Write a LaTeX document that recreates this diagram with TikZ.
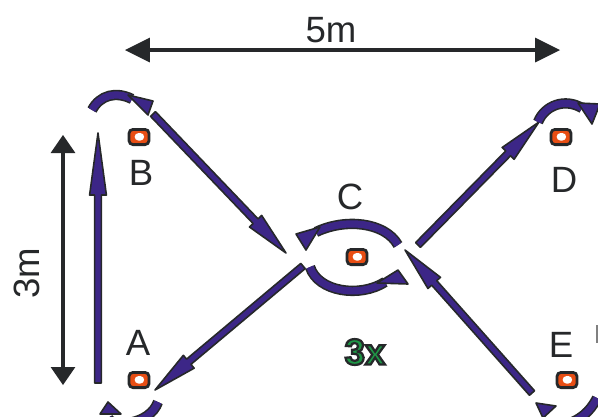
\documentclass[tikz,border=0pt]{standalone}
\usepackage{fontspec}
\setmainfont{Liberation Sans}
\usetikzlibrary{arrows.meta,calc}

\definecolor{drillviolet}{RGB}{60,38,135}
\definecolor{inkdark}{RGB}{38,40,42}
\definecolor{coneorange}{RGB}{232,78,20}
\definecolor{repgreen}{RGB}{30,150,70}

\tikzset{
  lab/.style={font=\fontsize{26}{30}\selectfont, text=inkdark, inner sep=0pt},
  measure/.style={draw=inkdark, line width=0.12cm},
  runbody/.style={fill=drillviolet, draw=inkdark, line width=0.04cm, line join=round},
  runcurve/.style={draw=inkdark, double=drillviolet, line width=0.04cm, double distance=0.18cm},
  cone/.style={draw=inkdark, fill=coneorange, line width=0.07cm, rounded corners=0.1cm,
    minimum width=0.5cm, minimum height=0.38cm, inner sep=0pt,
    path picture={\fill[white] ([shift={(-0.11cm,-0.09cm)}]path picture bounding box.center) rectangle +(0.24cm,0.19cm);}}
}

% straight run: start, tip, head length
\newcommand{\runarrow}[3]{%
  \coordinate (hb) at ($(#2)!#3!(#1)$);
  \filldraw[runbody] ($(#1)!\shaft!90:(#2)$) -- ($(hb)!\shaft!90:(#2)$) -- ($(hb)!\head!90:(#2)$)
    -- (#2) -- ($(hb)!\head!-90:(#2)$) -- ($(hb)!\shaft!-90:(#2)$) -- ($(#1)!\shaft!-90:(#2)$) -- cycle;
}
% outlined text
\newcommand{\outlined}[1]{%
  \special{pdf:literal direct 2 Tr 1.6 w 0.149 0.157 0.165 RG}#1\special{pdf:literal direct 0 Tr}}

\begin{document}
\begin{tikzpicture}[x=0.025cm, y=-0.025cm]

    % constants
    \def\shaft{0.085cm}
    \def\head{0.21cm}

    \useasboundingbox (0,0) rectangle (598,416);
    \clip (0,0) rectangle (598,416);

    % measures
    \coordinate (w-l) at (125,50);
    \coordinate (w-r) at (560,50);
    \coordinate (h-t) at (63,135);
    \coordinate (h-b) at (63,385);
    \draw[measure, {Triangle[length=0.62cm,width=0.62cm,line width=0pt]}-{Triangle[length=0.62cm,width=0.62cm,line width=0pt]}] (w-l) -- (w-r);
    \draw[measure, {Triangle[length=0.45cm,width=0.62cm,line width=0pt]}-{Triangle[length=0.45cm,width=0.62cm,line width=0pt]}] (h-t) -- (h-b);
    \node[lab] (wlab) at (331,30) {5m};
    \node[lab, rotate=90] (hlab) at (27,273) {3m};

    % cones
    \node[cone] (coneA) at (139,380) {};
    \node[cone] (coneB) at (139,137) {};
    \node[cone] (coneC) at (357,257) {};
    \node[cone] (coneD) at (561,137) {};
    \node[cone] (coneE) at (567,380) {};

    \node[lab] (labA) at (138,343) {A};
    \node[lab] (labB) at (141,173) {B};
    \node[lab] (labC) at (350,197) {C};
    \node[lab] (labD) at (564,180) {D};
    \node[lab] (labE) at (561,345) {E};

    % straight runs
    \coordinate (ab-s) at (98,383);
    \coordinate (ab-t) at (98,133);
    \coordinate (bc-s) at (153,114);
    \coordinate (bc-t) at (286,253);
    \coordinate (ca-s) at (303,266);
    \coordinate (ca-t) at (155,390);
    \coordinate (cd-s) at (418,245);
    \coordinate (cd-t) at (539,122);
    \coordinate (ec-s) at (532,393);
    \coordinate (ec-t) at (405,250);

    \runarrow{ab-s}{ab-t}{1.55cm}
    \runarrow{bc-s}{bc-t}{1.1cm}
    \runarrow{ca-s}{ca-t}{1.1cm}
    \runarrow{cd-s}{cd-t}{1.1cm}
    \runarrow{ec-s}{ec-t}{1.1cm}

    % turns round the cones
    \draw[runcurve] (92,110) .. controls (100,95) and (116,91) .. (132,99);
    \filldraw[runbody] (128,95) -- (153,101) -- (148,115) -- cycle;

    \draw[runcurve] (398,245) .. controls (385,222) and (345,218) .. (316,232);
    \filldraw[runbody] (296,234) -- (320,227) -- (306,250) -- cycle;

    \draw[runcurve] (310,267) .. controls (318,292) and (360,298) .. (385,282);
    \filldraw[runbody] (377,283) -- (398,270) -- (408,284) -- cycle;

    \draw[runcurve] (538,122) .. controls (545,105) and (565,98) .. (582,108);
    \filldraw[runbody] (578,103) -- (600,104) -- (592,124) -- cycle;

    \draw[runcurve] (158,402) .. controls (150,425) and (112,428) .. (108,418);
    \filldraw[runbody] (100,414) -- (108,402) -- (121,414) -- cycle;

    \draw[runcurve] (597,398) .. controls (590,412) and (580,420) .. (565,425);
    \filldraw[runbody] (536,403) -- (556,406) -- (543,418) -- cycle;

    \draw[gray, line width=0.05cm] (597,325) -- (597,343);

    % repetitions
    \node[inner sep=0pt, text=repgreen, font=\fontsize{26}{28}\selectfont\bfseries] (reps) at (365,352) {\outlined{3x}};

\end{tikzpicture}
\end{document}
